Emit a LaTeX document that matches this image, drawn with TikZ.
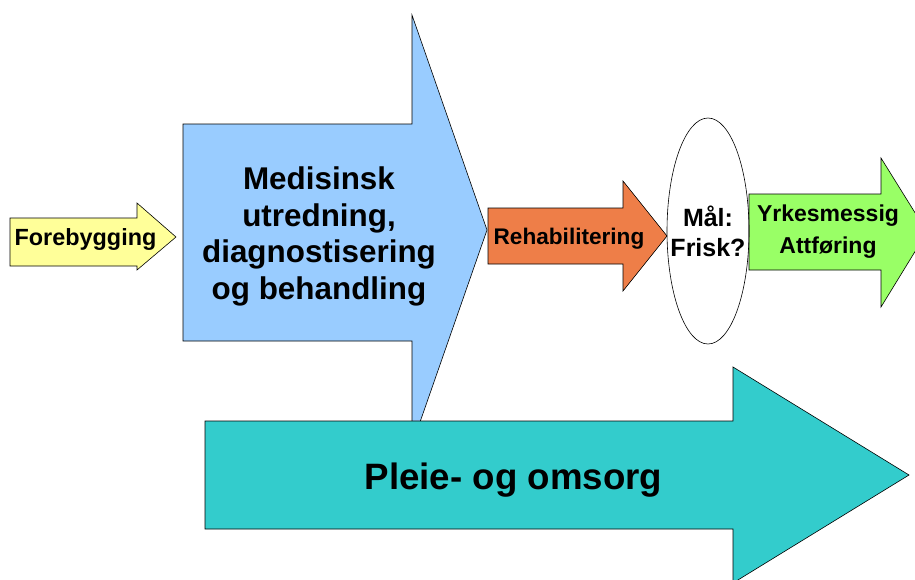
\documentclass[tikz,border=0pt]{standalone}
\usepackage{fontspec}
\setmainfont{Liberation Sans}
\usepackage{tikz}
\usetikzlibrary{shapes.geometric}
\definecolor{foreyellow}{HTML}{FFFF99}
\definecolor{medblue}{HTML}{99CCFF}
\definecolor{rehaborange}{HTML}{EE7E48}
\definecolor{yrkesgreen}{HTML}{99FF66}
\definecolor{pleieteal}{HTML}{33CCCC}
\begin{document}
\begin{tikzpicture}[x=1pt,y=-1pt,line join=miter,
  blockarr/.style={draw=black,line width=.6pt},
  lbl/.style={font=\bfseries,text=black,inner sep=0pt,align=center}]
\useasboundingbox (0,0) rectangle (915,579);
\draw[blockarr,fill=foreyellow] (10,218)--(137,218)--(137,203)--(176,237)--(137,270)--(137,266)--(10,266)--cycle;
\draw[blockarr,fill=medblue] (183,124)--(412,124)--(412,15)--(487,230)--(412,445)--(412,341)--(183,341)--cycle;
\draw[blockarr,fill=pleieteal] (205,421)--(733,421)--(733,367)--(909,475)--(733,583)--(733,529)--(205,529)--cycle;
\draw[blockarr,fill=rehaborange] (488,208)--(623,208)--(623,181)--(667,236)--(623,291)--(623,264)--(488,264)--cycle;
\draw[blockarr,fill=yrkesgreen] (749,194)--(881,194)--(881,158)--(927,232)--(881,307)--(881,270)--(749,270)--cycle;
\node[draw=black,line width=.6pt,ellipse,inner sep=0pt,minimum width=82pt,minimum height=226pt] (goal) at (708,231) {};
\node[lbl,anchor=base,font=\bfseries\fontsize{23.4}{27}\selectfont] (fore) at (85.5,245) {Forebygging};
\node[lbl,font=\bfseries\fontsize{31.4}{36.5}\selectfont] (medisinsk) at (319,236.5)
  {Medisinsk\\utredning,\\diagnostisering\\og behandling};
\node[lbl,anchor=base,font=\bfseries\fontsize{22.6}{26}\selectfont] (rehab) at (569,244) {Rehabilitering};
\node[lbl,font=\bfseries\fontsize{25}{30}\selectfont] (maal) at (goal) {Mål:\\Frisk?};
\node[lbl,font=\bfseries\fontsize{23}{32}\selectfont] (yrkes) at (828,232) {Yrkesmessig\\Attføring};
\node[lbl,anchor=base,font=\bfseries\fontsize{36.7}{42}\selectfont] (pleie) at (513.5,489) {Pleie- og omsorg};
\end{tikzpicture}
\end{document}
